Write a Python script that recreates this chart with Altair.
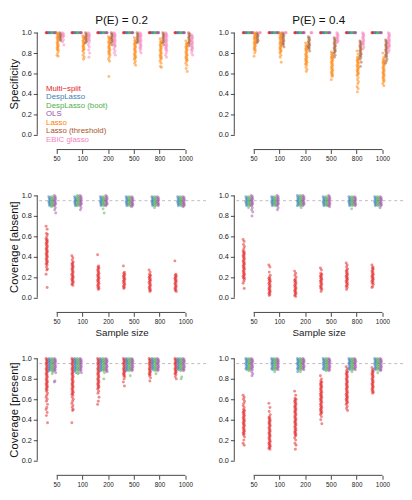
import json
import altair as alt
import pandas as pd

methods = ["Multi\u2212split", "DespLasso", "DespLasso (boot)", "OLS", "Lasso", "Lasso (threshold)", "EBIC glasso"]
colors = ["#E41A1C", "#377EB8", "#4DAF4A", "#984EA3", "#FF7F00", "#A65628", "#F781BF"]
sample_sizes = ["50", "100", "200", "500", "800", "1000"]
tick_pos = [1, 2, 3, 4, 5, 6]
y_ticks = [0.0, 0.2, 0.4, 0.6, 0.8, 1.0]
nominal = 0.95
col_titles = ["P(E) = 0.2", "P(E) = 0.4"]
row_titles = ["Specificity", "Coverage [absent]", "Coverage [present]"]

# ---------------- Specificity, P(E) = 0.2 ----------------
sp02_multi = [[1.0, 1.0, 1.0, 1.0], [1.0, 1.0, 1.0, 1.0], [1.0, 1.0, 1.0, 1.0], [1.0, 1.0, 1.0, 1.0], [1.0, 1.0, 1.0, 1.0], [1.0, 1.0, 1.0, 1.0]]
sp02_desp = [[1.0, 1.0, 1.0, 1.0], [1.0, 1.0, 1.0, 1.0], [1.0, 1.0, 1.0, 1.0], [1.0, 1.0, 1.0, 1.0], [1.0, 1.0, 1.0, 1.0], [1.0, 1.0, 1.0, 1.0]]
sp02_boot = [[1.0, 1.0, 1.0, 1.0], [1.0, 1.0, 1.0, 1.0], [1.0, 1.0, 1.0, 1.0], [1.0, 1.0, 1.0, 1.0], [1.0, 1.0, 1.0, 1.0], [1.0, 1.0, 1.0, 1.0]]
sp02_ols = [[1.0, 1.0, 1.0, 1.0], [1.0, 1.0, 1.0, 1.0], [1.0, 1.0, 1.0, 1.0], [1.0, 1.0, 1.0, 1.0], [1.0, 1.0, 1.0, 1.0], [1.0, 1.0, 1.0, 1.0]]
sp02_lasso = [
    [1.0, .99, .98, .97, .96, .95, .94, .93, .92, .91, .90, .89, .88, .87, .86, .85, .84, .83, .82, .80, .78, .77],
    [.97, .96, .95, .94, .93, .92, .91, .90, .89, .88, .87, .86, .85, .84, .83, .82, .80, .78, .76, .74],
    [.96, .95, .94, .93, .92, .91, .90, .89, .88, .87, .86, .85, .84, .83, .82, .81, .80, .79, .78, .76, .74, .72, .57],
    [.95, .93, .92, .91, .90, .89, .88, .87, .86, .85, .84, .83, .82, .81, .80, .79, .78, .77, .76, .75, .74, .72, .70, .68],
    [.94, .92, .91, .90, .89, .88, .87, .86, .85, .84, .83, .82, .81, .80, .79, .78, .77, .76, .75, .74, .72, .70, .67, .66],
    [.92, .90, .89, .88, .87, .86, .85, .84, .83, .82, .81, .80, .79, .78, .77, .76, .75, .74, .73, .72, .70, .68, .65, .62],
]
sp02_thr = [
    [1.0, .99, .98, .97, .96, .95, .94, .93, .92],
    [1.0, .99, .98, .97, .96, .95, .94, .93, .92, .91, .90],
    [1.0, .99, .98, .97, .96, .95, .94, .93, .92, .91, .90, .88],
    [1.0, .99, .98, .97, .96, .95, .94, .93, .92, .91, .90],
    [1.0, .99, .98, .97, .96, .95, .94, .93, .92, .91, .90, .88],
    [1.0, .99, .98, .97, .96, .95, .94, .93, .92, .91, .90, .89, .87],
]
sp02_ebic = [
    [1.0, .99, .98, .97, .96, .95, .93, .91, .88],
    [1.0, .99, .98, .97, .96, .95, .94, .93, .92, .90, .88, .86, .83, .80, .76],
    [1.0, .99, .98, .97, .96, .95, .94, .93, .92, .91, .90, .89, .88, .87, .86, .84, .82, .80, .78],
    [1.0, .99, .98, .97, .96, .95, .94, .93, .92, .91, .90, .89, .88, .87, .86, .85, .84, .82, .80],
    [1.0, .99, .98, .97, .96, .95, .94, .93, .92, .91, .90, .89, .88, .87, .86, .85, .84, .83, .82, .80, .78, .76],
    [.98, .97, .96, .95, .94, .93, .92, .91, .90, .89, .88, .87, .86, .85, .84, .83, .82, .80, .78],
]

# ---------------- Specificity, P(E) = 0.4 ----------------
sp04_multi = [[1.0, 1.0, 1.0, 1.0], [1.0, 1.0, 1.0, 1.0], [1.0, 1.0, 1.0, 1.0], [1.0, 1.0, 1.0, 1.0], [1.0, 1.0, 1.0, 1.0], [1.0, 1.0, 1.0, 1.0]]
sp04_desp = [[1.0, 1.0, 1.0, 1.0], [1.0, 1.0, 1.0, 1.0], [1.0, 1.0, 1.0, 1.0], [1.0, 1.0, 1.0, 1.0], [1.0, 1.0, 1.0, 1.0], [1.0, 1.0, 1.0, 1.0]]
sp04_boot = [[1.0, 1.0, 1.0, 1.0], [1.0, 1.0, 1.0, 1.0], [1.0, 1.0, 1.0, 1.0], [1.0, 1.0, 1.0, 1.0], [1.0, 1.0, 1.0, 1.0], [1.0, 1.0, 1.0, 1.0]]
sp04_ols = [[1.0, 1.0, 1.0, 1.0], [1.0, 1.0, 1.0, 1.0], [1.0, 1.0, 1.0, 1.0], [1.0, 1.0, 1.0, 1.0], [1.0, 1.0, 1.0, 1.0], [1.0, 1.0, 1.0, 1.0]]
sp04_lasso = [
    [1.0, .99, .98, .97, .96, .95, .94, .93, .92, .91, .90, .89, .88, .87, .86, .85, .84, .83, .82, .80, .77],
    [1.0, .99, .98, .97, .96, .95, .94, .93, .92, .91, .90, .89, .88, .87, .86, .85, .84, .83, .82, .81, .80, .78, .76, .71],
    [.90, .88, .87, .86, .85, .84, .83, .82, .81, .80, .79, .78, .77, .76, .75, .74, .73, .72, .71, .70, .69, .68, .66, .64, .62],
    [.81, .80, .79, .78, .77, .76, .75, .74, .73, .72, .71, .70, .69, .68, .67, .66, .65, .64, .63, .62, .61, .60, .59, .58, .57, .54],
    [.82, .79, .76, .75, .74, .73, .72, .71, .70, .69, .68, .67, .66, .65, .64, .63, .62, .61, .60, .59, .58, .56, .54, .52, .50, .47, .45, .42],
    [.80, .76, .74, .73, .72, .71, .70, .69, .68, .67, .66, .65, .64, .63, .62, .61, .60, .59, .58, .57, .56, .55, .54, .53, .52, .50, .48],
]
sp04_thr = [
    [1.0, .99, .98, .97, .96, .95, .94, .93, .92, .91, .90],
    [1.0, .99, .98, .97, .96, .95, .94, .93, .92, .91, .90, .89, .88, .86],
    [.96, .95, .94, .93, .92, .91, .90, .89, .88, .87, .86, .85, .84, .82],
    [.95, .94, .93, .92, .91, .90, .89, .88, .87, .86, .85, .84, .83, .82, .81, .80, .78, .76],
    [.92, .91, .90, .89, .88, .87, .86, .85, .84, .83, .82, .81, .80, .79, .78, .77, .76, .74, .71, .67],
    [.93, .92, .91, .90, .89, .88, .87, .86, .85, .84, .83, .82, .81, .80, .79, .78, .77, .76, .74, .72, .70],
]
sp04_ebic = [
    [1.0, 1.0, 1.0],
    [1.0, 1.0, 1.0],
    [1.0, 1.0, 1.0],
    [1.0, .99, .98, .97, .96, .95, .94, .93, .92, .91, .90],
    [1.0, .99, .98, .97, .96, .95, .94, .93, .92, .91, .90, .89, .88, .86, .84],
    [1.0, .99, .98, .97, .96, .95, .94, .93, .92, .91, .90, .89, .88, .87, .86, .85, .83, .81],
]

# ---------------- Coverage [absent], P(E) = 0.2 ----------------
ca02_multi = [
    [.70, .67, .63, .62, .60, .58, .57, .56, .55, .54, .53, .52, .51, .50, .49, .48, .47, .46, .45, .44, .43, .42, .41, .40, .39, .38, .37, .36, .35, .34, .33, .32, .30, .28, .27, .23, .10],
    [.41, .39, .37, .35, .34, .33, .32, .31, .30, .29, .28, .27, .26, .25, .24, .23, .22, .21, .20, .19, .18, .17, .16, .15, .14, .13, .12],
    [.42, .31, .30, .29, .28, .27, .26, .25, .24, .23, .22, .21, .20, .19, .18, .17, .16, .15, .14, .13, .12, .11, .10, .09, .08],
    [.31, .25, .24, .23, .22, .21, .20, .19, .18, .17, .16, .15, .14, .13, .12, .11, .10, .09],
    [.27, .25, .23, .22, .21, .20, .19, .18, .17, .16, .15, .14, .13, .12, .11, .10, .09, .08, .07, .06],
    [.36, .23, .22, .21, .20, .19, .18, .17, .16, .15, .14, .13, .12, .11, .10, .09, .08, .07, .06],
]
ca02_desp = [
    [.99, .98, .97, .96, .95, .94, .93, .92, .91, .90],
    [.99, .98, .97, .96, .95, .94, .93, .92, .91, .90],
    [.99, .98, .97, .96, .95, .94, .93, .92, .91, .90],
    [.99, .98, .97, .96, .95, .94, .93, .92, .91, .90],
    [.99, .98, .97, .96, .95, .94, .93, .92, .91, .90],
    [.99, .98, .97, .96, .95, .94, .93, .92, .91, .90],
]
ca02_boot = [
    [.99, .98, .97, .96, .95, .94, .93, .92, .91, .90, .89],
    [1.0, .99, .98, .97, .96, .95, .94, .93, .92, .91, .90],
    [.99, .98, .97, .96, .95, .94, .93, .92, .91, .90, .87, .83],
    [.99, .98, .97, .96, .95, .94, .93, .92, .91, .90],
    [.99, .98, .97, .96, .95, .94, .93, .92, .91, .90, .88],
    [.99, .98, .97, .96, .95, .94, .93, .92, .91, .90],
]
ca02_ols = [
    [1.0, .99, .98, .97, .96, .95, .94, .93, .92, .91, .90, .88, .86, .83],
    [1.0, .99, .98, .97, .96, .95, .94, .93, .92, .91, .90, .88, .86],
    [1.0, .99, .98, .97, .96, .95, .94, .93, .92, .91, .90],
    [.99, .98, .97, .96, .95, .94, .93, .92, .91, .90, .89],
    [.99, .98, .97, .96, .95, .94, .93, .92, .91, .90],
    [.99, .98, .97, .96, .95, .94, .93, .92, .91, .90, .89],
]

# ---------------- Coverage [absent], P(E) = 0.4 ----------------
ca04_multi = [
    [.57, .55, .52, .50, .48, .46, .45, .44, .43, .42, .41, .40, .39, .38, .37, .36, .35, .34, .33, .32, .31, .30, .29, .28, .27, .26, .25, .24, .23, .22, .21, .20, .19, .18, .16, .14, .09],
    [.32, .30, .25, .22, .20, .19, .18, .17, .16, .15, .14, .13, .12, .11, .10, .09, .08, .07, .06, .05, .04, .03, .02],
    [.26, .24, .22, .20, .18, .17, .16, .15, .14, .13, .12, .11, .10, .09, .08, .07, .06, .05, .04, .03, .02, .01],
    [.29, .27, .24, .23, .22, .21, .20, .19, .18, .17, .16, .15, .14, .13, .12, .11, .10, .09, .08, .06],
    [.34, .32, .30, .28, .27, .26, .25, .24, .23, .22, .21, .20, .19, .18, .17, .16, .15, .14, .13, .12, .11, .10, .08],
    [.32, .30, .29, .28, .27, .26, .25, .24, .23, .22, .21, .20, .19, .18, .17, .16, .15, .14, .13, .11, .10],
]
ca04_desp = [
    [.99, .98, .97, .96, .95, .94, .93, .92, .91, .90],
    [.99, .98, .97, .96, .95, .94, .93, .92, .91, .90],
    [1.0, .99, .98, .97, .96, .95, .94, .93, .92, .91, .90],
    [.99, .98, .97, .96, .95, .94, .93, .92, .91, .90],
    [.99, .98, .97, .96, .95, .94, .93, .92, .91, .90],
    [.99, .98, .97, .96, .95, .94, .93, .92, .91, .90],
]
ca04_boot = [
    [.99, .98, .97, .96, .95, .94, .93, .92, .91, .90, .88],
    [.99, .98, .97, .96, .95, .94, .93, .92, .91, .90],
    [1.0, .99, .98, .97, .96, .95, .94, .93, .92, .91, .90, .88],
    [.99, .98, .97, .96, .95, .94, .93, .92, .91, .90],
    [.99, .98, .97, .96, .95, .94, .93, .92, .91, .90, .87],
    [.99, .98, .97, .96, .95, .94, .93, .92, .91, .90],
]
ca04_ols = [
    [1.0, .99, .98, .97, .96, .95, .94, .93, .92, .91, .90, .88, .86, .84, .80],
    [1.0, .99, .98, .97, .96, .95, .94, .93, .92, .91, .90, .88, .86],
    [1.0, .99, .98, .97, .96, .95, .94, .93, .92, .91, .90],
    [1.0, .99, .98, .97, .96, .95, .94, .93, .92, .91, .90, .89],
    [.99, .98, .97, .96, .95, .94, .93, .92, .91, .90],
    [.99, .98, .97, .96, .95, .94, .93, .92, .91, .90, .88],
]

# ---------------- Coverage [present], P(E) = 0.2 ----------------
cp02_multi = [
    [1.0, .99, .98, .97, .96, .95, .94, .93, .92, .91, .90, .89, .88, .87, .86, .85, .84, .83, .82, .81, .80, .79, .78, .77, .76, .75, .74, .73, .72, .71, .70, .69, .68, .66, .64, .62, .60, .58, .55, .52, .50, .47, .44, .37],
    [1.0, .99, .98, .97, .96, .95, .94, .93, .92, .91, .90, .89, .88, .87, .86, .85, .84, .83, .82, .81, .80, .79, .78, .77, .76, .75, .74, .73, .72, .71, .70, .69, .68, .67, .66, .65, .64, .62, .60, .58, .56, .54, .52, .50, .49, .37],
    [1.0, .99, .98, .97, .96, .95, .94, .93, .92, .91, .90, .89, .88, .87, .86, .85, .84, .83, .82, .81, .80, .79, .78, .77, .76, .75, .74, .73, .72, .71, .70, .68, .66, .62, .58, .55],
    [1.0, .99, .98, .97, .96, .95, .94, .93, .92, .91, .90, .89, .88, .87, .86, .85, .84, .83, .82, .80, .77, .73],
    [1.0, .99, .98, .97, .96, .95, .94, .93, .92, .91, .90, .89, .88, .87, .86, .85, .84, .83, .81, .78],
    [1.0, .99, .98, .97, .96, .95, .94, .93, .92, .91, .90, .89, .88, .87, .86, .85, .84, .82, .80],
]
cp02_desp = [
    [1.0, .99, .98, .97, .96, .95, .94, .93, .92, .91, .90, .89, .88],
    [1.0, .99, .98, .97, .96, .95, .94, .93, .92, .91, .90, .89, .88, .86],
    [1.0, .99, .98, .97, .96, .95, .94, .93, .92, .91, .90, .89, .88],
    [1.0, .99, .98, .97, .96, .95, .94, .93, .92, .91, .90, .89, .88],
    [1.0, .99, .98, .97, .96, .95, .94, .93, .92, .91, .90, .89],
    [1.0, .99, .98, .97, .96, .95, .94, .93, .92, .91, .90, .89],
]
cp02_boot = [
    [1.0, .99, .98, .97, .96, .95, .94, .93, .92, .91, .90, .89, .88, .87, .85],
    [1.0, .99, .98, .97, .96, .95, .94, .93, .92, .91, .90, .89, .88, .86, .85],
    [1.0, .99, .98, .97, .96, .95, .94, .93, .92, .91, .90, .89, .88, .86, .80],
    [1.0, .99, .98, .97, .96, .95, .94, .93, .92, .91, .90, .89, .88, .83],
    [1.0, .99, .98, .97, .96, .95, .94, .93, .92, .91, .90, .89, .88, .85],
    [1.0, .99, .98, .97, .96, .95, .94, .93, .92, .91, .90, .89, .88, .82, .80],
]
cp02_ols = [
    [1.0, .99, .98, .97, .96, .95, .94, .93, .92, .91, .90, .89, .88, .86, .78, .77],
    [1.0, .99, .98, .97, .96, .95, .94, .93, .92, .91, .90, .89, .88, .86],
    [1.0, .99, .98, .97, .96, .95, .94, .93, .92, .91, .90, .89, .88, .87],
    [1.0, .99, .98, .97, .96, .95, .94, .93, .92, .91, .90, .89, .88],
    [1.0, .99, .98, .97, .96, .95, .94, .93, .92, .91, .90, .89, .88],
    [1.0, .99, .98, .97, .96, .95, .94, .93, .92, .91, .90, .89, .88],
]

# ---------------- Coverage [present], P(E) = 0.4 ----------------
cp04_multi = [
    [.64, .62, .60, .58, .56, .54, .52, .50, .49, .48, .47, .46, .45, .44, .43, .42, .41, .40, .39, .38, .37, .36, .35, .34, .33, .32, .31, .30, .29, .28, .27, .26, .25, .23, .20, .17, .15],
    [.56, .52, .48, .45, .43, .42, .41, .40, .39, .38, .37, .36, .35, .34, .33, .32, .31, .30, .29, .28, .27, .26, .25, .24, .23, .22, .21, .20, .19, .18, .17, .16, .15, .14, .13, .12, .11],
    [.68, .64, .61, .60, .59, .58, .57, .56, .55, .54, .53, .52, .51, .50, .49, .48, .47, .46, .45, .44, .43, .42, .41, .40, .39, .38, .37, .36, .35, .34, .33, .32, .31, .30, .29, .28, .27, .26, .25, .24, .22, .20, .17, .15, .11],
    [.83, .80, .78, .77, .76, .75, .74, .73, .72, .71, .70, .69, .68, .67, .66, .65, .64, .63, .62, .61, .60, .59, .58, .57, .56, .55, .54, .53, .52, .51, .50, .49, .48, .47, .46, .45, .43, .40, .36],
    [.92, .90, .88, .87, .86, .85, .84, .83, .82, .81, .80, .79, .78, .77, .76, .75, .74, .73, .72, .71, .70, .69, .68, .67, .66, .65, .64, .63, .62, .61, .60, .59, .58, .57, .56, .55, .53, .51, .49],
    [.91, .89, .88, .87, .86, .85, .84, .83, .82, .81, .80, .79, .78, .77, .76, .75, .74, .73, .72, .71, .70, .69, .68, .67, .66],
]
cp04_desp = [
    [1.0, .99, .98, .97, .96, .95, .94, .93, .92, .91, .90, .89],
    [1.0, .99, .98, .97, .96, .95, .94, .93, .92, .91, .90, .89],
    [1.0, .99, .98, .97, .96, .95, .94, .93, .92, .91, .90, .89, .87],
    [1.0, .99, .98, .97, .96, .95, .94, .93, .92, .91, .90, .89],
    [1.0, .99, .98, .97, .96, .95, .94, .93, .92, .91, .90, .89],
    [1.0, .99, .98, .97, .96, .95, .94, .93, .92, .91, .90, .89],
]
cp04_boot = [
    [1.0, .99, .98, .97, .96, .95, .94, .93, .92, .91, .90, .89, .88],
    [1.0, .99, .98, .97, .96, .95, .94, .93, .92, .91, .90, .89, .87],
    [1.0, .99, .98, .97, .96, .95, .94, .93, .92, .91, .90, .89, .87],
    [1.0, .99, .98, .97, .96, .95, .94, .93, .92, .91, .90, .89, .88],
    [1.0, .99, .98, .97, .96, .95, .94, .93, .92, .91, .90, .89, .87],
    [1.0, .99, .98, .97, .96, .95, .94, .93, .92, .91, .90, .89, .86],
]
cp04_ols = [
    [1.0, .99, .98, .97, .96, .95, .94, .93, .92, .91, .90, .89, .87, .85, .83],
    [1.0, .99, .98, .97, .96, .95, .94, .93, .92, .91, .90, .89],
    [1.0, .99, .98, .97, .96, .95, .94, .93, .92, .91, .90, .89],
    [1.0, .99, .98, .97, .96, .95, .94, .93, .92, .91, .90, .89, .88],
    [1.0, .99, .98, .97, .96, .95, .94, .93, .92, .91, .90, .89],
    [1.0, .99, .98, .97, .96, .95, .94, .93, .92, .91, .90, .89, .88],
]


def build(strips):
    rows = []
    for m, groups in enumerate(strips):
        for g, vals in enumerate(groups):
            for i, v in enumerate(vals):
                rows.append({"m": m, "method": methods[m], "g": g + 1, "i": i, "v": v})
    return pd.DataFrame(rows)


W, H = 173, 113
YDOM = [-0.04, 1.04]
XDOM = [0.25, 6.8]
FONT = "Liberation Sans"
color_scale = alt.Scale(domain=methods, range=colors)
label_expr = json.dumps(sample_sizes) + "[datum.value - 1]"


def panel(df, top=None, ytitle=None, xtitle=None, legend=False, ref=False):
    xs = alt.Scale(domain=XDOM, nice=False, zero=False)
    ys = alt.Scale(domain=YDOM, nice=False, zero=False)
    xkw = dict(values=tick_pos, labelExpr=label_expr, domain=False, grid=False, offset=11,
               tickSize=4, labelFontSize=6.5, labelPadding=2, labelFlush=False, labelOverlap=False,
               tickColor="#444", labelColor="#222", labelFont=FONT)
    if xtitle:
        xkw.update(title=xtitle, titleFontSize=10, titleFontWeight="normal", titlePadding=3,
                   titleFont=FONT, titleColor="#222")
    else:
        xkw.update(title="")
    ykw = dict(values=y_ticks, format=".1f", domain=False, grid=False, tickSize=4,
               labelFontSize=7.5, labelPadding=2, labelFlush=False, labelOverlap=False,
               tickColor="#444", labelColor="#222", labelFont=FONT)
    if ytitle:
        ykw.update(title=ytitle, titleFontSize=11.5, titleFontWeight="normal", titlePadding=2,
                   titleFont=FONT, titleColor="#111")
    else:
        ykw.update(title="")
    xax = alt.Axis(**xkw)
    yax = alt.Axis(**ykw)

    pts = alt.Chart(df).transform_calculate(
        xp="datum.g - 0.38 + datum.m * 0.106 + (((datum.i * 3) % 5) - 2) * 0.014"
    ).mark_circle(size=9, opacity=0.5).encode(
        x=alt.X("xp:Q", scale=xs, axis=xax),
        y=alt.Y("v:Q", scale=ys, axis=yax),
        color=alt.Color("method:N", scale=color_scale, legend=None),
    )
    layers = []
    if ref:
        layers.append(
            alt.Chart(pd.DataFrame({"v": [nominal]})).mark_rule(
                color="#c6b6be", strokeDash=[3, 3], strokeWidth=1
            ).encode(y=alt.Y("v:Q", scale=ys, axis=yax))
        )
    layers.append(pts)
    yline = alt.Chart(pd.DataFrame({"v": [y_ticks[0]], "v2": [y_ticks[-1]]})).mark_rule(
        color="#444", strokeWidth=1
    ).encode(x=alt.value(0), y=alt.Y("v:Q", scale=ys, axis=yax), y2="v2:Q")
    xline = alt.Chart(pd.DataFrame({"xp": [tick_pos[0]], "xp2": [tick_pos[-1]]})).mark_rule(
        color="#444", strokeWidth=1
    ).encode(x=alt.X("xp:Q", scale=xs, axis=xax), x2="xp2:Q", y=alt.value(H + 11))
    layers += [yline, xline]
    if legend:
        leg = alt.Chart(pd.DataFrame({"method": methods, "k": list(range(len(methods)))})).transform_calculate(
            v="0.45 - datum.k * 0.083"
        ).mark_text(align="left", baseline="middle", fontSize=8, font=FONT).encode(
            x=alt.value(9),
            y=alt.Y("v:Q", scale=ys, axis=yax),
            text="method:N",
            color=alt.Color("method:N", scale=color_scale, legend=None),
        )
        layers.append(leg)
    ch = alt.layer(*layers).properties(width=W, height=H)
    if top:
        ch = ch.properties(title=alt.TitleParams(top, fontSize=12, fontWeight="normal", font=FONT,
                                                 color="#111", anchor="middle", offset=2))
    return ch


sp02 = build([sp02_multi, sp02_desp, sp02_boot, sp02_ols, sp02_lasso, sp02_thr, sp02_ebic])
sp04 = build([sp04_multi, sp04_desp, sp04_boot, sp04_ols, sp04_lasso, sp04_thr, sp04_ebic])
ca02 = build([ca02_multi, ca02_desp, ca02_boot, ca02_ols])
ca04 = build([ca04_multi, ca04_desp, ca04_boot, ca04_ols])
cp02 = build([cp02_multi, cp02_desp, cp02_boot, cp02_ols])
cp04 = build([cp04_multi, cp04_desp, cp04_boot, cp04_ols])

panels = [
    panel(sp02, top=col_titles[0], ytitle=row_titles[0], legend=True),
    panel(sp04, top=col_titles[1]),
    panel(ca02, ytitle=row_titles[1], xtitle="Sample size", ref=True),
    panel(ca04, xtitle="Sample size", ref=True),
    panel(cp02, ytitle=row_titles[2], ref=True),
    panel(cp04, ref=True),
]

chart = alt.concat(*panels, columns=2, spacing=alt.RowColnumber(row=54, column=29), bounds="flush").properties(
    padding={"left": 0, "top": 0, "right": 0, "bottom": 0}
).configure_view(stroke=None).configure_axis(labelOverlap=False, labelFlush=False)

chart.save("out.html", embed_options={"renderer": "svg", "actions": False})
